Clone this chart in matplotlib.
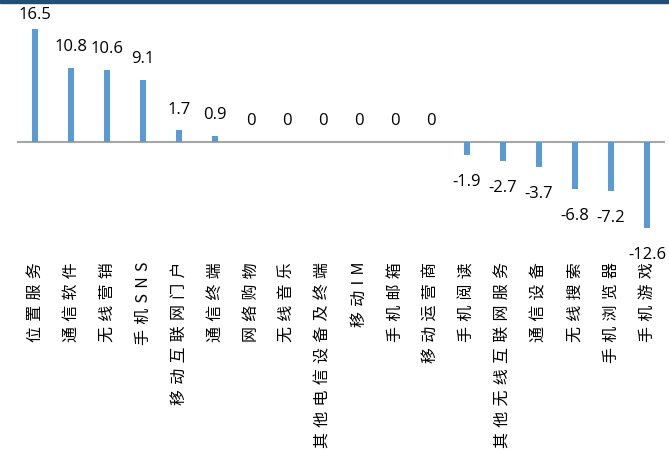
import matplotlib
matplotlib.use("Agg")
import matplotlib.pyplot as plt
from matplotlib.patches import Rectangle

# 各细分领域数值
categories = ["位置服务", "通信软件", "无线营销", "手机SNS", "移动互联网门户", "通信终端",
              "网络购物", "无线音乐", "其他电信设备及终端", "移动IM", "手机邮箱", "移动运营商",
              "手机阅读", "其他无线互联网服务", "通信设备", "无线搜索", "手机浏览器", "手机游戏"]
values = [16.5, 10.8, 10.6, 9.1, 1.7, 0.9, 0, 0, 0, 0, 0, 0,
          -1.9, -2.7, -3.7, -6.8, -7.2, -12.6]

cjk = ["Noto Sans CJK SC", "DejaVu Sans"]
bar_color = "#5B9BD5"

fig = plt.figure(figsize=(6.69, 4.52), dpi=100)
ax = fig.add_axes([0.0254, 0.479, 0.9686, 0.477])

x = list(range(len(categories)))
ax.bar(x, values, width=0.17, color=bar_color, zorder=2)
ax.axhline(0, color="#A6A6A6", linewidth=1.5, zorder=1)

ax.set_xlim(-0.5, len(categories) - 0.5)
ax.set_ylim(-13.5, 18)

# 数值标签
for xi, v in zip(x, values):
    if v >= 0:
        ty = min(v + 3.2, 18.7)
    else:
        ty = v - 3.8
    ax.text(xi, ty, f"{v:g}", ha="center", va="center", fontsize=12,
            family="Open Sans", color="black")

# 竖排类别标签
spaced = ["\u2004".join(c) for c in categories]
ax.set_xticks(x)
ax.set_xticklabels(spaced, rotation=90, fontsize=11.5, family=cjk, va="top", ha="center")
ax.tick_params(axis="x", length=0, pad=19)
ax.set_yticks([])
for s in ax.spines.values():
    s.set_visible(False)

# 顶部深蓝色横条
fig.add_artist(Rectangle((0, 1 - 4 / 452), 1, 4 / 452, transform=fig.transFigure,
                         color="#1F4E79", zorder=5))

fig.savefig("out.png", dpi=100)
